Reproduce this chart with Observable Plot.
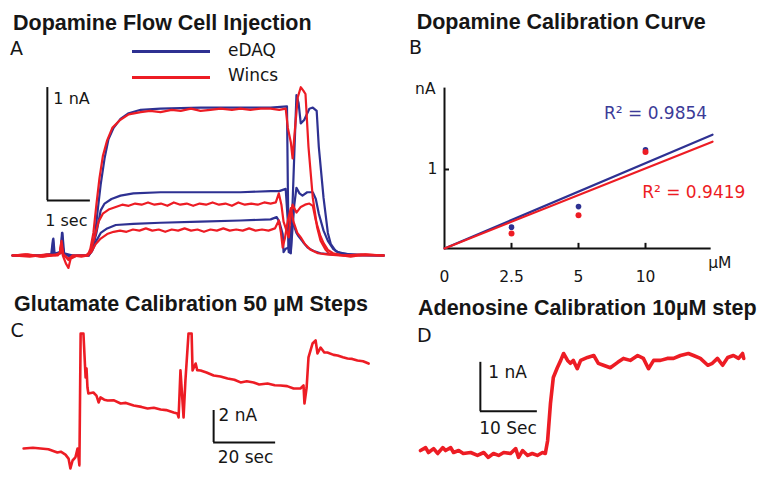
<!DOCTYPE html>
<html><head><meta charset="utf-8">
<script src="https://cdn.jsdelivr.net/npm/d3@7"></script>
<script src="https://cdn.jsdelivr.net/npm/@observablehq/plot@0.6"></script>
<style>
body{margin:0;background:#fff;}
#fig{position:relative;width:764px;height:480px;overflow:hidden;font-family:"DejaVu Sans",sans-serif;color:#161616;}
.panel{position:absolute;}
.title{position:absolute;font-family:"Liberation Sans",Arial,sans-serif;font-weight:bold;font-size:21.5px;line-height:1;white-space:nowrap;}
.letter{position:absolute;font-size:19px;line-height:1;}
.lgt{position:absolute;font-size:17px;line-height:1;}
.lgl{position:absolute;height:3px;width:78px;left:132px;}
</style>
</head><body>
<div id="fig">
  <div class="title" style="left:13px;top:12.5px">Dopamine Flow Cell Injection</div>
  <div class="title" style="left:416.7px;top:11.8px">Dopamine Calibration Curve</div>
  <div class="title" style="left:14px;top:294px">Glutamate Calibration 50 µM Steps</div>
  <div class="title" style="left:418px;top:298px">Adenosine Calibration 10µM step</div>
  <div class="letter" style="left:10px;top:39px">A</div>
  <div class="letter" style="left:409px;top:37.5px">B</div>
  <div class="letter" style="left:10.5px;top:321px">C</div>
  <div class="letter" style="left:417px;top:325.5px">D</div>
  <div class="lgl" id="lgBlue" style="top:49.5px"></div>
  <div class="lgl" id="lgRed" style="top:75.5px"></div>
  <div class="lgt" style="left:228px;top:41.6px">eDAQ</div>
  <div class="lgt" style="left:228px;top:67.3px">Wincs</div>
</div>
<script>
const BLUE = "#2e3192", RED = "#ed1c24";
const FONT = "DejaVu Sans, sans-serif";
document.getElementById("lgBlue").style.background = BLUE;
document.getElementById("lgRed").style.background = RED;

// ---------- Panel A: flow cell injection traces (time s, current nA) ----------
const aBlue10 = [[0,0],[0.65,0],[0.9,0.01],[1.12,0.03],[1.15,0.2],[1.18,0.02],[1.35,-0.01],[1.58,0],[1.77,0],[1.81,0.03],[1.91,0.15],[1.98,0.4],[2.05,0.63],[2.14,0.86],[2.23,1.03],[2.35,1.13],[2.51,1.21],[2.7,1.26],[2.98,1.29],[3.44,1.3],[4.37,1.31],[5.3,1.31],[6.0,1.31],[6.38,1.32],[6.4,0.6],[6.42,0.03],[6.47,0.02],[6.55,0.9],[6.6,1.42],[6.65,1.35],[6.7,1.17],[6.78,1.2],[6.9,1.3],[6.98,1.31],[7.07,1.28],[7.12,0.96],[7.23,0.51],[7.33,0.2],[7.4,0.1],[7.51,0.04],[7.63,0.02],[7.86,0.01],[8.09,0],[8.63,0]];
const aRed10 = [[0,0],[0.3,0.01],[0.65,-0.01],[1.0,0],[1.1,0.02],[1.13,0.11],[1.16,0.02],[1.3,-0.03],[1.4,0],[1.6,-0.01],[1.75,0],[1.81,0.06],[1.88,0.2],[1.95,0.45],[2.02,0.68],[2.1,0.88],[2.2,1.02],[2.32,1.13],[2.5,1.2],[2.7,1.25],[2.98,1.27],[3.2,1.28],[3.44,1.27],[3.7,1.29],[3.91,1.28],[4.15,1.3],[4.37,1.28],[4.6,1.29],[4.84,1.3],[5.1,1.29],[5.3,1.3],[5.53,1.29],[5.77,1.3],[6.0,1.3],[6.2,1.29],[6.35,1.3],[6.4,1.13],[6.47,1.0],[6.51,0.86],[6.55,1.05],[6.63,1.4],[6.7,1.49],[6.76,1.46],[6.81,1.43],[6.88,0.96],[6.98,0.51],[7.08,0.25],[7.16,0.13],[7.28,0.05],[7.35,0.02],[7.5,0.01],[7.86,-0.01],[8.2,0.01],[8.63,0]];
const aBlue5 = [[0,0],[0.65,0],[0.92,0.01],[0.95,0.15],[0.98,0.01],[1.12,0.02],[1.16,0.1],[1.2,0],[1.58,0],[1.77,0],[1.85,0.05],[1.95,0.2],[2.05,0.4],[2.14,0.46],[2.3,0.5],[2.51,0.53],[2.81,0.55],[3.44,0.56],[4.37,0.56],[5.3,0.56],[6.0,0.57],[6.2,0.57],[6.35,0.59],[6.4,0.3],[6.42,0.05],[6.47,0.04],[6.55,0.45],[6.6,0.6],[6.67,0.55],[6.74,0.53],[6.85,0.56],[6.98,0.56],[7.05,0.5],[7.12,0.37],[7.23,0.22],[7.33,0.13],[7.45,0.06],[7.56,0.03],[7.8,0.01],[8.63,0]];
const aRed5 = [[0,0],[0.4,-0.01],[0.8,0.01],[1.05,0],[1.1,0.02],[1.14,0.13],[1.18,0.01],[1.3,-0.04],[1.4,0],[1.7,0],[1.8,0.03],[1.9,0.15],[2.0,0.3],[2.1,0.37],[2.25,0.41],[2.4,0.43],[2.55,0.45],[2.7,0.44],[2.85,0.46],[3.0,0.45],[3.15,0.47],[3.3,0.45],[3.45,0.46],[3.6,0.44],[3.75,0.47],[3.9,0.45],[4.05,0.46],[4.2,0.44],[4.35,0.46],[4.5,0.45],[4.65,0.47],[4.8,0.45],[4.95,0.46],[5.1,0.44],[5.25,0.47],[5.4,0.45],[5.55,0.46],[5.7,0.45],[5.85,0.47],[6.0,0.46],[6.12,0.47],[6.19,0.55],[6.25,0.45],[6.3,0.3],[6.42,0.16],[6.47,0.38],[6.51,0.45],[6.6,0.38],[6.7,0.43],[6.8,0.45],[6.9,0.46],[6.98,0.44],[7.05,0.31],[7.15,0.18],[7.23,0.11],[7.33,0.05],[7.45,0.02],[7.7,0],[8.1,0.01],[8.63,0]];
const aBlue25 = [[0,0],[0.6,0],[0.9,0.01],[0.94,0.14],[0.97,0.01],[1.12,0.03],[1.16,0.2],[1.2,0.02],[1.4,0],[1.77,0],[1.85,0.04],[1.95,0.13],[2.05,0.2],[2.2,0.24],[2.4,0.27],[2.81,0.28],[3.44,0.29],[4.37,0.3],[5.3,0.31],[6.0,0.32],[6.14,0.34],[6.2,0.3],[6.28,0.19],[6.3,0.03],[6.35,0.06],[6.42,0.07],[6.47,0.25],[6.53,0.28],[6.6,0.2],[6.65,0.17],[6.75,0.12],[6.86,0.07],[7.0,0.04],[7.16,0.02],[7.4,0.01],[8.63,0]];
const aRed25 = [[0,0],[0.35,0.01],[0.7,-0.01],[1.02,0.01],[1.1,0.02],[1.13,0.08],[1.17,0],[1.24,-0.07],[1.3,-0.11],[1.35,-0.03],[1.5,0],[1.75,0],[1.83,0.03],[1.93,0.1],[2.05,0.15],[2.2,0.19],[2.35,0.21],[2.5,0.22],[2.65,0.21],[2.8,0.23],[2.95,0.22],[3.1,0.24],[3.25,0.22],[3.4,0.23],[3.55,0.21],[3.7,0.23],[3.85,0.22],[4.0,0.24],[4.15,0.22],[4.3,0.23],[4.45,0.21],[4.6,0.23],[4.75,0.22],[4.9,0.24],[5.05,0.22],[5.2,0.23],[5.35,0.22],[5.5,0.24],[5.65,0.22],[5.8,0.23],[5.95,0.22],[6.1,0.24],[6.19,0.31],[6.24,0.2],[6.28,0.07],[6.33,0.15],[6.4,0.31],[6.47,0.42],[6.53,0.3],[6.62,0.2],[6.7,0.16],[6.8,0.1],[6.93,0.05],[7.1,0.02],[7.3,0.01],[7.6,0],[8.63,0]];
const aScaleBar = {t: 0.81, v: 0.487, dt: 1, dv: 1};
const aScaleLabels = [{t: 0.95, v: 1.39, label: "1 nA"}, {t: 0.76, v: 0.31, label: "1 sec"}];

// ---------- Panel B: calibration curve ----------
const bConc = ["0", "2.5", "5", "10"];            // µM, equally spaced on the axis
const bBlue = [0.27, 0.53, 1.25];                  // eDAQ nA at 2.5, 5, 10 µM
const bRed = [0.19, 0.42, 1.22];                   // Wincs nA
const bSlopeBlue = 0.36, bSlopeRed = 0.338;        // fitted line, nA per axis step
const bR2 = [{x: 3.15, y: 1.71, label: "R² = 0.9854", color: "#3b3b98"}, {x: 3.72, y: 0.71, label: "R² = 0.9419", color: RED}];
const bAxisEnd = {x: 3.98, y: 2.03};

// ---------- Panel C: glutamate steps (time s, nA) ----------
const cTrace = [[1,0],[4,0.05],[6.5,0],[9,-0.05],[11.9,-0.25],[13,-0.2],[14.5,-0.38],[15.5,-0.63],[16.1,-1.25],[16.8,-0.75],[17.7,-0.56],[18.4,0],[19,-1.06],[19.4,7.19],[20.3,7.19],[21,4.44],[21.3,5.0],[21.6,3.81],[21.9,3.44],[23.5,3.5],[24.5,3.3],[25.2,2.88],[25.8,3.19],[27,3.05],[28.1,3.0],[30,3.02],[32.3,2.81],[34,2.85],[36.5,2.69],[39,2.6],[41,2.5],[43,2.55],[45.2,2.44],[47,2.4],[49.4,2.25],[50.6,2.19],[51,1.94],[51.6,4.88],[52.6,1.94],[53.2,4.25],[54.2,7.19],[55.2,7.19],[55.5,4.88],[56.5,5.31],[57,4.9],[58.1,4.88],[60,4.75],[62.3,4.56],[64.5,4.5],[66.8,4.38],[69,4.3],[71,4.13],[73,4.2],[75.2,4.13],[77,4.0],[79.7,4.06],[82,3.95],[83.9,3.94],[86,3.9],[88.1,3.75],[90.3,3.75],[91.3,3.94],[91.6,2.81],[92.3,3.81],[92.9,5.69],[94.2,6.56],[95.2,6.75],[95.8,5.94],[96.8,6.31],[98,6.0],[99,6.0],[101,5.85],[102.3,5.81],[104,5.7],[105.5,5.63],[107,5.6],[108.7,5.5],[110.5,5.45],[112.3,5.31]];
const cScaleBar = {t: 62.3, v: 0.375, dt: 20, dv: 2};
const cScaleLabels = [{t: 63.9, v: 2.06, label: "2 nA"}, {t: 63.6, v: -0.56, label: "20 sec"}];

// ---------- Panel D: adenosine step (time s, nA) ----------
const dTrace = [[0,0.04],[0.9,0.10],[1.4,0],[2.3,0.08],[3.0,-0.02],[3.9,0.10],[4.4,0.04],[5.3,0.10],[5.8,0],[6.7,0.04],[7.5,-0.02],[8.8,0],[10.0,-0.06],[11.1,0],[11.9,-0.10],[12.8,-0.02],[13.7,-0.06],[14.6,0],[15.8,-0.02],[16.7,0.08],[17.2,-0.10],[17.9,0.04],[18.8,-0.06],[19.6,-0.02],[20.5,-0.06],[21.4,0],[21.9,-0.02],[22.3,0.24],[22.8,1.0],[23.3,1.53],[24.0,1.73],[24.6,1.88],[25.1,2.02],[25.8,1.88],[26.3,1.82],[26.8,1.88],[27.5,1.71],[28.1,1.88],[29.3,1.94],[30.4,1.98],[31.2,1.82],[32.1,1.78],[33.3,1.73],[34.6,1.84],[35.6,1.92],[36.8,1.88],[38.1,1.98],[39.1,1.92],[40.0,1.71],[40.9,1.88],[42.1,1.88],[43.3,1.92],[44.4,1.92],[45.6,1.98],[47.0,2.02],[47.9,1.98],[49.1,1.92],[50.4,1.78],[51.2,1.82],[52.1,1.92],[53.0,1.78],[53.9,1.94],[54.9,1.98],[55.8,1.92],[56.5,2.02],[56.7,1.92]];
const dScaleBar = {t: 10.5, v: 0.84, dt: 10, dv: 1};
const dScaleLabels = [{t: 11.9, v: 1.63, label: "1 nA"}, {t: 10.3, v: 0.49, label: "10 Sec"}];

// ---------- helpers ----------
const fig = document.getElementById("fig");
function place(svg, left, top) {
  const d = document.createElement("div");
  d.className = "panel";
  d.style.left = left + "px"; d.style.top = top + "px";
  d.appendChild(svg); fig.appendChild(d);
}
const style = {background: "transparent", overflow: "visible", fontFamily: FONT, color: "#161616"};
const tr = (data, color, w) => Plot.line(data, {x: d => d[0], y: d => d[1], stroke: color, strokeWidth: w, strokeLinejoin: "round", strokeLinecap: "round", curve: "linear"});
function scaleBar(sb) {
  return [
    Plot.ruleX([sb], {x: "t", y1: "v", y2: d => d.v + d.dv, stroke: "#111", strokeWidth: 2}),
    Plot.ruleY([sb], {y: "v", x1: "t", x2: d => d.t + d.dt, stroke: "#111", strokeWidth: 2})
  ];
}
const labels = (arr, fs) => Plot.text(arr, {x: "t", y: "v", text: "label", textAnchor: "start", lineAnchor: "middle", fontSize: fs, fill: "#161616"});

// Panel A
place(Plot.plot({
  width: 390, height: 280, marginLeft: 12, marginRight: 8, marginTop: 63, marginBottom: 2.4,
  x: {domain: [0, 8.6], axis: null}, y: {domain: [-0.2, 1.7], axis: null}, style,
  marks: [
    ...scaleBar(aScaleBar), labels(aScaleLabels, 16),
    tr(aBlue25, BLUE, 2.2), tr(aBlue5, BLUE, 2.2), tr(aBlue10, BLUE, 2.2),
    tr(aRed25, RED, 2.2), tr(aRed5, RED, 2.2), tr(aRed10, RED, 2.2)
  ]
}), 0, 0);

// Panel B
const bIdx = bConc.map((c, i) => i);
const bPts = (arr) => arr.map((v, i) => ({x: i + 1, y: v}));
const fit = (s) => [{x: 0, y: 0}, {x: bIdx.length, y: s * bIdx.length}];
place(Plot.plot({
  width: 374, height: 280, marginLeft: 54, marginRight: 52, marginTop: 87.6, marginBottom: 32,
  x: {domain: [0, 4], axis: null}, y: {domain: [0, bAxisEnd.y], axis: null}, style,
  marks: [
    Plot.ruleY([0], {x1: 0, x2: bAxisEnd.x, stroke: "#111", strokeWidth: 2}),
    Plot.ruleX([0], {y1: 0, y2: bAxisEnd.y, stroke: "#111", strokeWidth: 2}),
    Plot.ruleX(bIdx.slice(1), {y1: 0, y2: 0.065, stroke: "#111", strokeWidth: 2}),
    Plot.ruleY([1], {x1: 0, x2: 0.075, stroke: "#111", strokeWidth: 2}),
    Plot.text(bConc, {x: (d, i) => i, y: 0, text: d => d, dy: 29, fontSize: 15.5, fill: "#161616"}),
    Plot.text([1], {x: 0, y: d => d, text: d => String(d), dx: -12, fontSize: 15.5, fill: "#161616"}),
    Plot.text(["nA"], {x: 0, y: bAxisEnd.y, text: d => d, textAnchor: "end", dx: -9, dy: 1, fontSize: 15.5, fill: "#161616"}),
    Plot.text(["µM"], {x: bAxisEnd.x, y: 0, text: d => d, textAnchor: "start", dx: -3, dy: 15, fontSize: 15.5, fill: "#161616"}),
    Plot.line(fit(bSlopeBlue), {x: "x", y: "y", stroke: BLUE, strokeWidth: 2.2}),
    Plot.line(fit(bSlopeRed), {x: "x", y: "y", stroke: RED, strokeWidth: 2.2}),
    Plot.dot(bPts(bBlue), {x: "x", y: "y", r: 2.8, fill: BLUE}),
    Plot.dot(bPts(bRed), {x: "x", y: "y", r: 3, fill: RED}),
    Plot.text(bR2, {x: "x", y: "y", text: "label", fill: "color", fontSize: 17})
  ]
}), 390, 0);

// Panel C
place(Plot.plot({
  width: 390, height: 200, marginLeft: 20, marginRight: 4.2, marginTop: 8, marginBottom: 0,
  x: {domain: [0, 118], axis: null}, y: {domain: [-2, 10], axis: null}, style,
  marks: [
    ...scaleBar(cScaleBar), labels(cScaleLabels, 17),
    tr(cTrace, RED, 2.6)
  ]
}), 0, 280);

// Panel D
place(Plot.plot({
  width: 374, height: 200, marginLeft: 30, marginRight: 2, marginTop: 5.4, marginBottom: 3.5,
  x: {domain: [0, 60], axis: null}, y: {domain: [-0.5, 3.4], axis: null}, style,
  marks: [
    ...scaleBar(dScaleBar), labels(dScaleLabels, 17),
    tr(dTrace, RED, 3.6)
  ]
}), 390, 280);
</script>
</body></html>
